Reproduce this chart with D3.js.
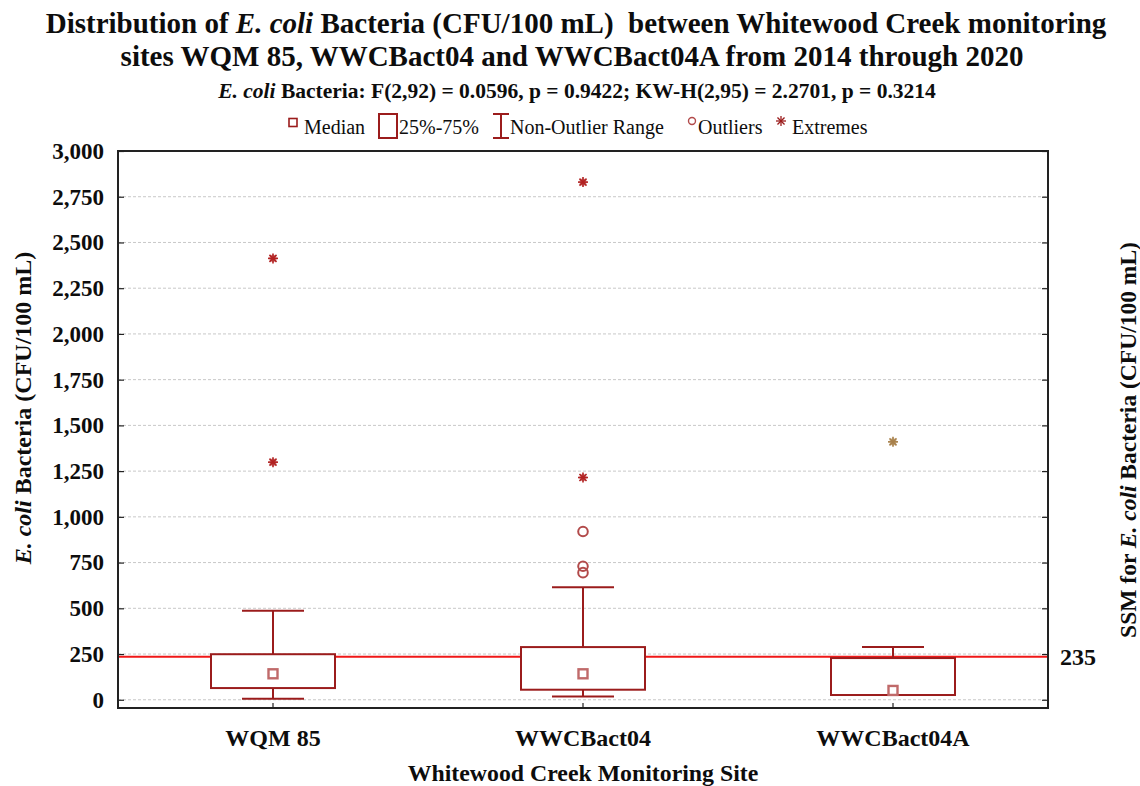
<!DOCTYPE html>
<html>
<head>
<meta charset="utf-8">
<script src="https://cdn.jsdelivr.net/npm/d3@7"></script>
<style>
  html, body { margin: 0; padding: 0; background: #fff; }
  svg { display: block; }
  text { font-family: "Liberation Serif", "Times New Roman", serif; white-space: pre; }
</style>
</head>
<body>
<svg id="chart" width="1140" height="786"></svg>
<script>
// Monitoring sites along Whitewood Creek
const sites = ["WQM 85", "WWCBact04", "WWCBact04A"];

// Box-plot statistics, E. coli (CFU/100 mL)
const medians     = [142, 142, 51];
const q1          = [64, 55, 26];
const q3          = [249, 288, 228];
const whiskerLow  = [5, 18, 26];
const whiskerHigh = [486, 615, 288];

// Individual points beyond the non-outlier range
const outliers = [[], [920, 730, 695], []];
const extremes = [[2413, 1299], [2830, 1215], [1410]];

// Single-sample maximum criterion
const ssm = 235;

// Y-axis ticks
const yTicks = [0, 250, 500, 750, 1000, 1250, 1500, 1750, 2000, 2250, 2500, 2750, 3000];

const boxColor = "#9b1c1c";
const medianColor = "#c06a6a";
const outlierColor = "#b24a4a";
const extremeColors = ["#b22222", "#b22222", "#a8804a"];
const textColor = "#0d0d0d";

const svg = d3.select("#chart");
const plot = { left: 118, right: 1048, top: 151, bottom: 708 };

const x = d3.scaleBand().domain(sites).range([plot.left, plot.right]).padding(0);
const y = d3.scaleLinear().domain([-45, 3000]).range([plot.bottom, plot.top]);
const fmt = d3.format(",");

// Titles
const title = svg.append("g").attr("font-weight", "bold").attr("fill", textColor);
const t1 = title.append("text").attr("x", 576).attr("y", 33).attr("text-anchor", "middle").attr("font-size", 29);
t1.append("tspan").text("Distribution of ");
t1.append("tspan").attr("font-style", "italic").text("E. coli");
t1.append("tspan").text(" Bacteria (CFU/100 mL)  between Whitewood Creek monitoring");
title.append("text").attr("x", 572).attr("y", 66).attr("text-anchor", "middle").attr("font-size", 29)
  .text("sites WQM 85, WWCBact04 and WWCBact04A from 2014 through 2020");
const st = title.append("text").attr("x", 577).attr("y", 98).attr("text-anchor", "middle").attr("font-size", 21.5);
st.append("tspan").attr("font-style", "italic").text("E. coli");
st.append("tspan").text(" Bacteria: F(2,92) = 0.0596, p = 0.9422; KW-H(2,95) = 2.2701, p = 0.3214");

// Legend
const lg = svg.append("g").attr("fill", textColor);
const lgY = 134;
const lgFont = 20;
lg.append("rect").attr("x", 289).attr("y", 118.5).attr("width", 8).attr("height", 8)
  .attr("fill", "none").attr("stroke", boxColor).attr("stroke-width", 1.6);
lg.append("text").attr("x", 304).attr("y", lgY).attr("font-size", lgFont).text("Median");
lg.append("rect").attr("x", 379).attr("y", 114).attr("width", 18).attr("height", 24)
  .attr("fill", "none").attr("stroke", boxColor).attr("stroke-width", 2);
lg.append("text").attr("x", 399).attr("y", lgY).attr("font-size", lgFont).text("25%-75%");
const ib = lg.append("g").attr("stroke", boxColor).attr("stroke-width", 2);
ib.append("line").attr("x1", 501).attr("x2", 501).attr("y1", 114).attr("y2", 138);
ib.append("line").attr("x1", 493).attr("x2", 509).attr("y1", 114).attr("y2", 114);
ib.append("line").attr("x1", 493).attr("x2", 509).attr("y1", 138).attr("y2", 138);
lg.append("text").attr("x", 510).attr("y", lgY).attr("font-size", lgFont).text("Non-Outlier Range");
lg.append("circle").attr("cx", 692).attr("cy", 121).attr("r", 3.5)
  .attr("fill", "none").attr("stroke", outlierColor).attr("stroke-width", 1.4);
lg.append("text").attr("x", 698).attr("y", lgY).attr("font-size", lgFont).text("Outliers");

function asterisk(g, cx, cy, r, color, w) {
  const a = g.append("g").attr("stroke", color).attr("stroke-width", w);
  [0, 45, 90, 135].forEach(deg => {
    const rad = deg * Math.PI / 180;
    a.append("line")
      .attr("x1", cx - r * Math.cos(rad)).attr("y1", cy - r * Math.sin(rad))
      .attr("x2", cx + r * Math.cos(rad)).attr("y2", cy + r * Math.sin(rad));
  });
}
asterisk(lg, 781, 121, 5, boxColor, 1.3);
lg.append("text").attr("x", 792).attr("y", lgY).attr("font-size", lgFont).text("Extremes");

// Gridlines
svg.append("g").selectAll("line").data(yTicks.filter(d => d < 3000)).join("line")
  .attr("x1", plot.left).attr("x2", plot.right)
  .attr("y1", d => y(d)).attr("y2", d => y(d))
  .attr("stroke", "#c8c8c8").attr("stroke-width", 1).attr("stroke-dasharray", "3,2");

// SSM reference line
svg.append("line").attr("x1", plot.left).attr("x2", plot.right)
  .attr("y1", y(ssm)).attr("y2", y(ssm))
  .attr("stroke", "#f01818").attr("stroke-width", 2);

// Boxes and whiskers
const bw = x.bandwidth() * 0.4;
const cw = x.bandwidth() * 0.2;
const groups = svg.append("g").selectAll("g").data(sites).join("g")
  .attr("transform", d => `translate(${x(d) + x.bandwidth() / 2},0)`);

groups.each(function (s, i) {
  const g = d3.select(this);
  const wk = g.append("g").attr("stroke", boxColor).attr("stroke-width", 2);
  wk.append("line").attr("x1", 0).attr("x2", 0).attr("y1", y(q3[i])).attr("y2", y(whiskerHigh[i]));
  wk.append("line").attr("x1", 0).attr("x2", 0).attr("y1", y(q1[i])).attr("y2", y(whiskerLow[i]));
  wk.append("line").attr("x1", -cw / 2).attr("x2", cw / 2).attr("y1", y(whiskerHigh[i])).attr("y2", y(whiskerHigh[i]));
  wk.append("line").attr("x1", -cw / 2).attr("x2", cw / 2).attr("y1", y(whiskerLow[i])).attr("y2", y(whiskerLow[i]));
  g.append("rect").attr("x", -bw / 2).attr("width", bw)
    .attr("y", y(q3[i])).attr("height", y(q1[i]) - y(q3[i]))
    .attr("fill", "#fff").attr("stroke", boxColor).attr("stroke-width", 2);
  g.append("rect").attr("x", -4.5).attr("y", y(medians[i]) - 4.5).attr("width", 9).attr("height", 9)
    .attr("fill", "#fff").attr("stroke", medianColor).attr("stroke-width", 2.4);
  g.selectAll("circle.out").data(outliers[i]).join("circle").attr("class", "out")
    .attr("cx", 0).attr("cy", d => y(d)).attr("r", 4.8)
    .attr("fill", "none").attr("stroke", outlierColor).attr("stroke-width", 2);
  extremes[i].forEach(v => {
    g.append("circle").attr("cx", 0).attr("cy", y(v)).attr("r", 3.6)
      .attr("fill", extremeColors[i]).attr("opacity", 0.5);
    asterisk(g, 0, y(v), 5, extremeColors[i], 1.6);
  });
});

// Frame
svg.append("rect").attr("x", plot.left).attr("y", plot.top)
  .attr("width", plot.right - plot.left).attr("height", plot.bottom - plot.top)
  .attr("fill", "none").attr("stroke", "#222").attr("stroke-width", 2);

// Left axis (inward ticks)
const yAxisL = d3.axisLeft(y).tickValues(yTicks).tickFormat(fmt).tickSize(-6).tickPadding(14);
const gl = svg.append("g").attr("transform", `translate(${plot.left},0)`).call(yAxisL);
gl.select(".domain").remove();
gl.selectAll(".tick line").attr("stroke", "#222").attr("stroke-width", 1.2);
gl.selectAll(".tick text").attr("font-family", "Liberation Serif, Times New Roman, serif")
  .attr("font-weight", "bold").attr("font-size", 23).attr("fill", textColor);

// Right axis (inward ticks, no labels)
const yAxisR = d3.axisRight(y).tickValues(yTicks).tickFormat("").tickSize(-6);
const gr = svg.append("g").attr("transform", `translate(${plot.right},0)`).call(yAxisR);
gr.select(".domain").remove();
gr.selectAll(".tick line").attr("stroke", "#222").attr("stroke-width", 1.2);

// Bottom axis
const xAxis = d3.axisBottom(x).tickSize(-5).tickPadding(21);
const gb = svg.append("g").attr("transform", `translate(0,${plot.bottom})`).call(xAxis);
gb.select(".domain").remove();
gb.selectAll(".tick line").attr("stroke", "#222").attr("stroke-width", 1.2);
gb.selectAll(".tick text").attr("font-family", "Liberation Serif, Times New Roman, serif")
  .attr("font-weight", "bold").attr("font-size", 24).attr("fill", textColor);

// SSM label
svg.append("text").attr("x", 1060).attr("y", y(ssm) + 8).attr("font-size", 24)
  .attr("font-weight", "bold").attr("fill", textColor).text(String(ssm));

// Axis titles
svg.append("text").attr("x", 583).attr("y", 781).attr("text-anchor", "middle")
  .attr("font-size", 23.8).attr("font-weight", "bold").attr("fill", textColor)
  .text("Whitewood Creek Monitoring Site");

const yl = svg.append("text").attr("transform", "translate(31,408) rotate(-90)")
  .attr("text-anchor", "middle").attr("font-size", 24).attr("font-weight", "bold").attr("fill", textColor);
yl.append("tspan").attr("font-style", "italic").text("E. coli");
yl.append("tspan").text(" Bacteria (CFU/100 mL)");

const yr = svg.append("text").attr("transform", "translate(1136,440) rotate(-90)")
  .attr("text-anchor", "middle").attr("font-size", 23.5).attr("font-weight", "bold").attr("fill", textColor);
yr.append("tspan").text("SSM for ");
yr.append("tspan").attr("font-style", "italic").text("E. coli");
yr.append("tspan").text(" Bacteria (CFU/100 mL)");
</script>
</body>
</html>
